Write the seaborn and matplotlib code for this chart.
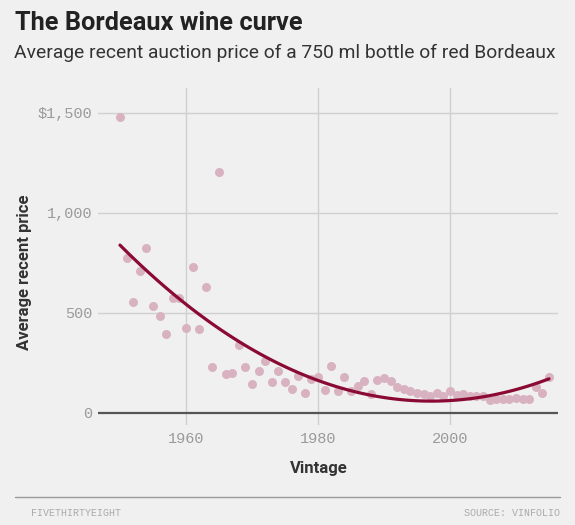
import numpy as np
import pandas as pd
import matplotlib
matplotlib.use('Agg')
import matplotlib.pyplot as plt
import seaborn as sns

# Vintages and their average recent auction price (USD, 750 ml)
vintage = list(range(1950, 2016))
price = [
    1480, 775, 557, 708, 827, 537, 483, 397, 577, 573,   # 1950s
    423, 730, 418, 628, 228, 1205, 193, 198, 338, 230,   # 1960s
    145, 210, 258, 157, 210, 153, 118, 185, 98, 172,     # 1970s
    178, 115, 235, 112, 180, 110, 135, 160, 95, 167,     # 1980s
    176, 158, 128, 118, 108, 98, 95, 85, 98, 85,         # 1990s
    112, 88, 93, 85, 85, 87, 63, 72, 68, 68,             # 2000s
    73, 72, 72, 132, 102, 178,                           # 2010s
]

y_ticks = [0, 500, 1000, 1500]
y_tick_labels = ['0', '500', '1,000', '$1,500']
x_ticks = [1960, 1980, 2000]
x_tick_labels = ['1960', '1980', '2000']

df = pd.DataFrame({'Vintage': vintage, 'Price': price})

BG = '#f0f0f0'
sns.set_style('white')
plt.rcParams['font.family'] = ['Roboto', 'DejaVu Sans']

fig = plt.figure(figsize=(5.75, 5.25), dpi=100, facecolor=BG)
ax = fig.add_axes([0.1704, 0.1905, 0.80, 0.6419], facecolor=BG)

# scatter + quadratic fit
sns.regplot(
    data=df, x='Vintage', y='Price', order=2, ci=None, ax=ax,
    scatter_kws={'s': 42, 'color': '#d8b2c0', 'alpha': 1, 'linewidths': 0, 'zorder': 3},
    line_kws={'color': '#8a0a33', 'lw': 2.3, 'zorder': 4},
)

ax.set_xlim(1946.67, 2016.36)
ax.set_ylim(-60, 1625)

# Gridlines
for yv in y_ticks[1:]:
    ax.axhline(yv, color='#d0d0d0', lw=1, zorder=1)
for xv in x_ticks:
    ax.axvline(xv, color='#d0d0d0', lw=1, zorder=1)
ax.axhline(0, color='#555555', lw=1.6, zorder=2)

for s in ax.spines.values():
    s.set_visible(False)

ax.set_yticks(y_ticks)
ax.set_yticklabels(y_tick_labels)
ax.set_xticks(x_ticks)
ax.set_xticklabels(x_tick_labels)
ax.tick_params(length=0, colors='#9a9a9a', labelsize=11)
for lab in ax.get_xticklabels() + ax.get_yticklabels():
    lab.set_family('Liberation Mono')
ax.tick_params(axis='x', pad=5)
ax.tick_params(axis='y', pad=4)

ax.set_xlabel('')
ax.set_ylabel('')

# Axis titles
fig.text(319 / 575, 1 - 468 / 525, 'Vintage', ha='center', va='center',
         fontsize=12, fontweight='bold', color='#333333')
fig.text(25 / 575, 1 - 272 / 525, 'Average recent price', ha='center', va='center',
         rotation=90, fontsize=12, fontweight='bold', color='#333333')

# Title and subtitle
fig.text(15 / 575, 1 - 23 / 525, 'The Bordeaux wine curve', ha='left', va='center',
         fontsize=18.3, fontweight='bold', color='#222222')
fig.text(14 / 575, 1 - 53 / 525,
         'Average recent auction price of a 750 ml bottle of red Bordeaux',
         ha='left', va='center', fontsize=13.9, color='#333333')

# Footer
fig.add_artist(plt.Line2D([15 / 575, 560 / 575], [1 - 496.5 / 525] * 2,
                          color='#999999', lw=1))
fig.text(31 / 575, 1 - 512.5 / 525, 'FIVETHIRTYEIGHT', ha='left', va='center',
         fontsize=7.2, color='#aaaaaa', family='Liberation Mono')
fig.text(560 / 575, 1 - 512.5 / 525, 'SOURCE: VINFOLIO', ha='right', va='center',
         fontsize=7.2, color='#aaaaaa', family='Liberation Mono')

fig.savefig('out.png', dpi=100, facecolor=BG)
